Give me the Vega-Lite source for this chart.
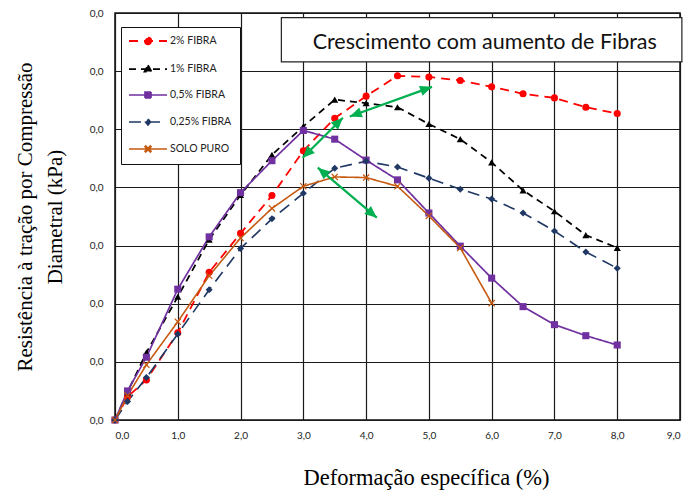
{
  "$schema": "https://vega.github.io/schema/vega-lite/v6.json",
  "width": 565,
  "height": 407,
  "autosize": {"type": "none"},
  "padding": {"left": 115, "top": 13, "right": 8, "bottom": 77},
  "background": "white",
  "config": {
    "view": {"stroke": "#111", "strokeWidth": 1.5},
    "axis": {
      "domain": false, "ticks": false, "grid": true,
      "gridColor": "#1a1a1a", "gridWidth": 1.2, "gridOpacity": 1,
      "labelFont": "Lato", "labelFontSize": 10, "labelColor": "#222",
      "titleFont": "Liberation Serif", "titleFontSize": 21, "titleFontWeight": "normal", "titleColor": "#000"
    }
  },
  "datasets": {
    "curves": [
      {"s": "2% FIBRA", "x": 0, "y": 0},
      {"s": "2% FIBRA", "x": 0.2, "y": 0.0020},
      {"s": "2% FIBRA", "x": 0.5, "y": 0.00345},
      {"s": "2% FIBRA", "x": 1.0, "y": 0.0075},
      {"s": "2% FIBRA", "x": 1.5, "y": 0.0127},
      {"s": "2% FIBRA", "x": 2.0, "y": 0.01605},
      {"s": "2% FIBRA", "x": 2.5, "y": 0.0193},
      {"s": "2% FIBRA", "x": 3.0, "y": 0.02315},
      {"s": "2% FIBRA", "x": 3.5, "y": 0.02595},
      {"s": "2% FIBRA", "x": 4.0, "y": 0.02785},
      {"s": "2% FIBRA", "x": 4.5, "y": 0.0296},
      {"s": "2% FIBRA", "x": 5.0, "y": 0.0295},
      {"s": "2% FIBRA", "x": 5.5, "y": 0.0292},
      {"s": "2% FIBRA", "x": 6.0, "y": 0.02865},
      {"s": "2% FIBRA", "x": 6.5, "y": 0.02805},
      {"s": "2% FIBRA", "x": 7.0, "y": 0.0277},
      {"s": "2% FIBRA", "x": 7.5, "y": 0.0269},
      {"s": "2% FIBRA", "x": 8.0, "y": 0.02635},
      {"s": "1% FIBRA", "x": 0, "y": 0},
      {"s": "1% FIBRA", "x": 0.2, "y": 0.0024},
      {"s": "1% FIBRA", "x": 0.5, "y": 0.0058},
      {"s": "1% FIBRA", "x": 1.0, "y": 0.0106},
      {"s": "1% FIBRA", "x": 1.5, "y": 0.0155},
      {"s": "1% FIBRA", "x": 2.0, "y": 0.01935},
      {"s": "1% FIBRA", "x": 2.5, "y": 0.0228},
      {"s": "1% FIBRA", "x": 3.0, "y": 0.02525},
      {"s": "1% FIBRA", "x": 3.5, "y": 0.02755},
      {"s": "1% FIBRA", "x": 4.0, "y": 0.02725},
      {"s": "1% FIBRA", "x": 4.5, "y": 0.0269},
      {"s": "1% FIBRA", "x": 5.0, "y": 0.02545},
      {"s": "1% FIBRA", "x": 5.5, "y": 0.02415},
      {"s": "1% FIBRA", "x": 6.0, "y": 0.02215},
      {"s": "1% FIBRA", "x": 6.5, "y": 0.01975},
      {"s": "1% FIBRA", "x": 7.0, "y": 0.01795},
      {"s": "1% FIBRA", "x": 7.5, "y": 0.0159},
      {"s": "1% FIBRA", "x": 8.0, "y": 0.0148},
      {"s": "0,5% FIBRA", "x": 0, "y": 0},
      {"s": "0,5% FIBRA", "x": 0.2, "y": 0.0025},
      {"s": "0,5% FIBRA", "x": 0.5, "y": 0.0054},
      {"s": "0,5% FIBRA", "x": 1.0, "y": 0.01125},
      {"s": "0,5% FIBRA", "x": 1.5, "y": 0.01575},
      {"s": "0,5% FIBRA", "x": 2.0, "y": 0.01955},
      {"s": "0,5% FIBRA", "x": 2.5, "y": 0.0223},
      {"s": "0,5% FIBRA", "x": 3.0, "y": 0.0249},
      {"s": "0,5% FIBRA", "x": 3.5, "y": 0.02415},
      {"s": "0,5% FIBRA", "x": 4.0, "y": 0.02235},
      {"s": "0,5% FIBRA", "x": 4.5, "y": 0.02065},
      {"s": "0,5% FIBRA", "x": 5.0, "y": 0.0178},
      {"s": "0,5% FIBRA", "x": 5.5, "y": 0.01495},
      {"s": "0,5% FIBRA", "x": 6.0, "y": 0.0122},
      {"s": "0,5% FIBRA", "x": 6.5, "y": 0.00975},
      {"s": "0,5% FIBRA", "x": 7.0, "y": 0.0082},
      {"s": "0,5% FIBRA", "x": 7.5, "y": 0.00725},
      {"s": "0,5% FIBRA", "x": 8.0, "y": 0.00645},
      {"s": "0,25% FIBRA", "x": 0, "y": 0},
      {"s": "0,25% FIBRA", "x": 0.2, "y": 0.0016},
      {"s": "0,25% FIBRA", "x": 0.5, "y": 0.00365},
      {"s": "0,25% FIBRA", "x": 1.0, "y": 0.0074},
      {"s": "0,25% FIBRA", "x": 1.5, "y": 0.0112},
      {"s": "0,25% FIBRA", "x": 2.0, "y": 0.01475},
      {"s": "0,25% FIBRA", "x": 2.5, "y": 0.0173},
      {"s": "0,25% FIBRA", "x": 3.0, "y": 0.0195},
      {"s": "0,25% FIBRA", "x": 3.5, "y": 0.02165},
      {"s": "0,25% FIBRA", "x": 4.0, "y": 0.02225},
      {"s": "0,25% FIBRA", "x": 4.5, "y": 0.02175},
      {"s": "0,25% FIBRA", "x": 5.0, "y": 0.0208},
      {"s": "0,25% FIBRA", "x": 5.5, "y": 0.01985},
      {"s": "0,25% FIBRA", "x": 6.0, "y": 0.019},
      {"s": "0,25% FIBRA", "x": 6.5, "y": 0.0178},
      {"s": "0,25% FIBRA", "x": 7.0, "y": 0.01625},
      {"s": "0,25% FIBRA", "x": 7.5, "y": 0.01445},
      {"s": "0,25% FIBRA", "x": 8.0, "y": 0.01305},
      {"s": "SOLO PURO", "x": 0, "y": 0},
      {"s": "SOLO PURO", "x": 0.2, "y": 0.0021},
      {"s": "SOLO PURO", "x": 0.5, "y": 0.00475},
      {"s": "SOLO PURO", "x": 1.0, "y": 0.00845},
      {"s": "SOLO PURO", "x": 1.5, "y": 0.0124},
      {"s": "SOLO PURO", "x": 2.0, "y": 0.01565},
      {"s": "SOLO PURO", "x": 2.5, "y": 0.0182},
      {"s": "SOLO PURO", "x": 3.0, "y": 0.0201},
      {"s": "SOLO PURO", "x": 3.5, "y": 0.0209},
      {"s": "SOLO PURO", "x": 4.0, "y": 0.02085},
      {"s": "SOLO PURO", "x": 4.5, "y": 0.0201},
      {"s": "SOLO PURO", "x": 5.0, "y": 0.01755},
      {"s": "SOLO PURO", "x": 5.5, "y": 0.0148},
      {"s": "SOLO PURO", "x": 6.0, "y": 0.01005}
    ],
    "arrows": [
      {"x": 3.74, "y": 0.0261, "x2": 5.05, "y2": 0.02865},
      {"x": 2.99, "y": 0.02255, "x2": 3.63, "y2": 0.026},
      {"x": 3.23, "y": 0.0217, "x2": 4.17, "y2": 0.0174}
    ],
    "heads": [
      {"x": 5.05, "y": 0.02865, "a": 70},
      {"x": 3.74, "y": 0.0261, "a": -110},
      {"x": 3.63, "y": 0.026, "a": 45},
      {"x": 2.99, "y": 0.02255, "a": -135},
      {"x": 4.17, "y": 0.0174, "a": 130},
      {"x": 3.23, "y": 0.0217, "a": -50}
    ],
    "box": [
      {"x": 2.65, "x2": 9.03, "y": 0.0308, "y2": 0.0346, "t": "Crescimento com aumento de Fibras", "tx": 5.89, "ty": 0.03245}
    ]
  },
  "layer": [
    {
      "data": {"name": "box"},
      "mark": {"type": "rect", "fill": "white", "stroke": "#222", "strokeWidth": 1.2},
      "encoding": {
        "x": {
          "field": "x", "type": "quantitative",
          "scale": {"domain": [0, 9], "nice": false},
          "axis": {"values": [0,1,2,3,4,5,6,7,8,9], "format": ".1f", "labelExpr": "replace(datum.label, '.', ',')", "labelPadding": 10, "title": "Deformação específica (%)", "titleFontSize": 22.5, "titleX": 311, "titleY": 64, "titleBaseline": "alphabetic"}
        },
        "x2": {"field": "x2"},
        "y": {
          "field": "y", "type": "quantitative",
          "scale": {"domain": [0, 0.035], "nice": false},
          "axis": {"values": [0,0.005,0.01,0.015,0.02,0.025,0.03,0.035], "format": ".1f", "labelExpr": "replace(datum.label, '.', ',')", "labelPadding": 12, "title": ["Resistência à tração por Compressão", "Diametral (kPa)"], "titleX": -84, "titleY": 203.5, "titleAngle": -90, "titleAlign": "center", "titleBaseline": "alphabetic", "titleLineHeight": 30}
        },
        "y2": {"field": "y2"}
      }
    },
    {
      "data": {"name": "box"},
      "mark": {"type": "text", "font": "Lato", "fontSize": 21.5, "color": "#111", "align": "center", "baseline": "middle"},
      "encoding": {
        "x": {"field": "tx", "type": "quantitative"},
        "y": {"field": "ty", "type": "quantitative"},
        "text": {"field": "t"}
      }
    },
    {
      "data": {"name": "curves"},
      "mark": {"type": "line"},
      "encoding": {
        "x": {"field": "x", "type": "quantitative"},
        "y": {"field": "y", "type": "quantitative"},
        "color": {
          "field": "s", "type": "nominal",
          "scale": {"domain": ["2% FIBRA", "1% FIBRA", "0,5% FIBRA", "0,25% FIBRA", "SOLO PURO"], "range": ["#FF0000", "#000000", "#7030A0", "#1F3864", "#C55A11"]},
          "legend": {
            "orient": "none", "legendX": 6, "legendY": 14, "title": null,
            "symbolSize": 100, "symbolStrokeWidth": 2, "symbolOffset": 13, "symbolOpacity": 1,
            "labelFont": "Lato", "labelFontSize": 10.5, "labelColor": "#222",
            "padding": 8, "rowPadding": 13, "labelOffset": 16,
            "strokeColor": "#111", "fillColor": "white",
            "encode": {"symbols": {"update": {
              "fill": {"scale": "color", "field": "value"},
              "shape": {"signal": "datum.value === '2% FIBRA' ? 'M-3.8,0L3.8,0M0.65,0A0.65,0.65 0 1,1 -0.65,0A0.65,0.65 0 1,1 0.65,0Z' : datum.value === '1% FIBRA' ? 'M-3.8,0L3.8,0M0,-0.75L0.7,0.5L-0.7,0.5Z' : datum.value === '0,5% FIBRA' ? 'M-3.8,0L3.8,0M-0.6,-0.6L0.6,-0.6L0.6,0.6L-0.6,0.6Z' : datum.value === '0,25% FIBRA' ? 'M-3.8,0L3.8,0M0,-0.6L0.5,0L0,0.6L-0.5,0Z' : 'M-3.8,0L3.8,0M-0.6,-0.45L-0.45,-0.6L0,-0.15L0.45,-0.6L0.6,-0.45L0.15,0L0.6,0.45L0.45,0.6L0,0.15L-0.45,0.6L-0.6,0.45L-0.15,0Z'"}
            }}}
          }
        },
        "strokeDash": {
          "field": "s", "type": "nominal",
          "scale": {"domain": ["2% FIBRA", "1% FIBRA", "0,5% FIBRA", "0,25% FIBRA", "SOLO PURO"], "range": [[9, 6], [7, 5], [1, 0], [12, 7], [1, 0]]},
          "legend": {
            "orient": "none", "legendX": 6, "legendY": 14, "title": null,
            "symbolSize": 100, "symbolStrokeWidth": 2, "symbolOffset": 13, "symbolOpacity": 1,
            "labelFont": "Lato", "labelFontSize": 10.5, "labelColor": "#222",
            "padding": 8, "rowPadding": 13, "labelOffset": 16,
            "strokeColor": "#111", "fillColor": "white",
            "encode": {"symbols": {"update": {
              "fill": {"scale": "color", "field": "value"},
              "shape": {"signal": "datum.value === '2% FIBRA' ? 'M-3.8,0L3.8,0M0.65,0A0.65,0.65 0 1,1 -0.65,0A0.65,0.65 0 1,1 0.65,0Z' : datum.value === '1% FIBRA' ? 'M-3.8,0L3.8,0M0,-0.75L0.7,0.5L-0.7,0.5Z' : datum.value === '0,5% FIBRA' ? 'M-3.8,0L3.8,0M-0.6,-0.6L0.6,-0.6L0.6,0.6L-0.6,0.6Z' : datum.value === '0,25% FIBRA' ? 'M-3.8,0L3.8,0M0,-0.6L0.5,0L0,0.6L-0.5,0Z' : 'M-3.8,0L3.8,0M-0.6,-0.45L-0.45,-0.6L0,-0.15L0.45,-0.6L0.6,-0.45L0.15,0L0.6,0.45L0.45,0.6L0,0.15L-0.45,0.6L-0.6,0.45L-0.15,0Z'"}
            }}}
          }
        },
        "strokeWidth": {
          "field": "s", "type": "nominal",
          "scale": {"domain": ["2% FIBRA", "1% FIBRA", "0,5% FIBRA", "0,25% FIBRA", "SOLO PURO"], "range": [1.8, 1.6, 2.4, 2.6, 2.2]},
          "legend": null
        }
      }
    },
    {
      "data": {"name": "curves"},
      "mark": {"type": "point", "filled": true, "opacity": 1, "strokeWidth": 0},
      "encoding": {
        "x": {"field": "x", "type": "quantitative"},
        "y": {"field": "y", "type": "quantitative"},
        "fill": {
          "field": "s", "type": "nominal",
          "sort": ["2% FIBRA", "1% FIBRA", "0,5% FIBRA", "0,25% FIBRA", "SOLO PURO"],
          "scale": {"range": ["#FF0000", "#000000", "#7030A0", "#1F3864", "#C55A11"]},
          "legend": null
        },
        "shape": {
          "field": "s", "type": "nominal",
          "sort": ["2% FIBRA", "1% FIBRA", "0,5% FIBRA", "0,25% FIBRA", "SOLO PURO"],
          "scale": {"range": ["circle", "triangle-up", "square", "diamond", "M-1,-0.75L-0.75,-1L0,-0.25L0.75,-1L1,-0.75L0.25,0L1,0.75L0.75,1L0,0.25L-0.75,1L-1,0.75L-0.25,0Z"]},
          "legend": null
        },
        "size": {
          "field": "s", "type": "nominal",
          "sort": ["2% FIBRA", "1% FIBRA", "0,5% FIBRA", "0,25% FIBRA", "SOLO PURO"],
          "scale": {"range": [50, 50, 55, 30, 40]},
          "legend": null
        }
      }
    },
    {
      "data": {"name": "arrows"},
      "mark": {"type": "rule", "color": "#00B050", "strokeWidth": 2.2},
      "encoding": {
        "x": {"field": "x", "type": "quantitative"},
        "y": {"field": "y", "type": "quantitative"},
        "x2": {"field": "x2"},
        "y2": {"field": "y2"}
      }
    },
    {
      "data": {"name": "heads"},
      "mark": {"type": "point", "filled": true, "opacity": 1, "color": "#00B050", "strokeWidth": 0, "shape": "M0,0L0.65,1.5L-0.65,1.5Z", "size": 256},
      "encoding": {
        "x": {"field": "x", "type": "quantitative"},
        "y": {"field": "y", "type": "quantitative"},
        "angle": {"field": "a", "type": "quantitative", "scale": null}
      }
    }
  ]
}
